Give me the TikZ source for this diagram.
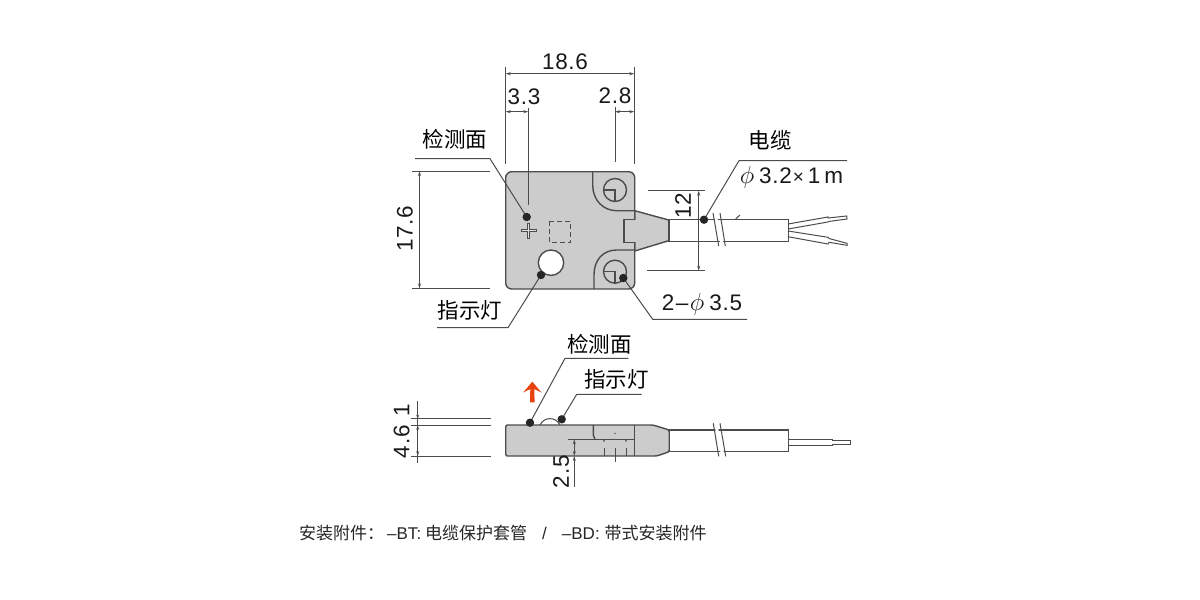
\documentclass[tikz,border=0pt]{standalone}
\usepackage{fontspec}
\usepackage{xcolor}
\usetikzlibrary{arrows.meta}
\setmainfont{Liberation Sans}
\newfontfamily\cjk{Noto Sans CJK SC}
\newfontfamily\dimfont[LetterSpace=3]{Liberation Sans}
\definecolor{base}{HTML}{cccccc}
\definecolor{ink}{HTML}{4c4c4c}
\definecolor{hint}{HTML}{e8430f}
\newcommand{\phisign}{{\fontsize{27}{28}\selectfont$\phi$}}

\begin{document}
\begin{tikzpicture}[x=1pt, y=-1pt,
    line/.style={ink, line width=1pt},
    edge/.style={ink, line width=1.4pt},
    dimen/.style={line, {Stealth[length=5pt,width=3pt]}-{Stealth[length=5pt,width=3pt]}},
    lbl/.style={inner sep=0pt, text=black!90, font=\fontsize{22.5}{24}\selectfont\dimfont},
    cjklbl/.style={inner sep=0pt, text=black, font=\fontsize{21.5}{24}\selectfont\cjk},
    blob/.style={fill=black!85}]
      \useasboundingbox (0,0) rectangle (1200,600);
      \fill[white] (0,0) rectangle (1200,600);

      % Draw top view body
      \draw[edge, fill=base] (634.7,210.7) -- (668.7,220) -- (668.7,240.7) -- (634.7,251) -- cycle;
      \draw[edge, fill=base, rounded corners=6pt] (505.7,171.7) rectangle (634.7,289);
      \draw[base, line width=2.2pt] (634.7,220) -- (634.7,241.6);
      \draw[edge] (592.7,172) -- (592.7,185) .. controls (592.7,200) and (603,210.7) .. (616.7,210.7) -- (634.7,210.7);
      \draw[edge] (594,289) -- (594,275) .. controls (594,260) and (603,250) .. (616.7,250) -- (634.7,250);
      \draw[edge] (634.7,219.3) -- (624,219.3) -- (624,242.3) -- (634.7,242.3);

      % Draw mounting holes
      \draw[edge] (615,190) circle (11.5pt);
      \draw[edge] (603.5,190) -- (615,190) -- (615,201.5);
      \draw[edge] (615,271.7) circle (11.5pt);
      \draw[edge] (603.5,271.7) -- (615,271.7) -- (615,283.2);

      % Draw cross, dashed square and lamp
      \draw[ink, line width=3pt] (520.7,230.7) -- (536.7,230.7) (528.7,222.7) -- (528.7,238.7);
      \draw[base!60!white, line width=0.8pt] (521.7,230.7) -- (535.7,230.7) (528.7,223.7) -- (528.7,237.7);
      \draw[line, dashed, dash pattern=on 5pt off 3pt] (549,221) rectangle (570.7,242);
      \draw[edge, fill=white] (551,262.7) circle (12.7pt);

      % Draw cable and wires
      \draw[edge, fill=white] (669,219.3) rectangle (788.3,241.3);
      \draw[line] (788,224) -- (828,217) -- (828,218) -- (846.7,216) -- (847,219) -- (828.5,221.5) -- (828,222) -- (788,229);
      \draw[line] (788,231) -- (828,237.3) -- (829,238.5) -- (847,243.3) -- (847,245.3) -- (829,242.3) -- (828,244) -- (788,236.7);
      \draw[white, line width=3pt] (715.5,217) -- (722.5,245);
      \draw[line] (713,213) -- (718.7,246);
      \draw[line] (720,213) -- (725.3,246);
      \draw[line] (735.7,219) -- (740,215);

      % Draw top view dimensions
      \draw[line] (505.7,67) -- (505.7,164);
      \draw[line] (634.3,67) -- (634.3,164);
      \draw[line] (528.3,108) -- (528.3,205);
      \draw[line] (615,107) -- (615,162);
      \draw[dimen] (505.7,73.7) -- (634.3,73.7);
      \draw[dimen] (505.7,111.7) -- (528.3,111.7);
      \draw[dimen] (615,111.7) -- (634.3,111.7);
      \draw[line] (412,171) -- (490,171);
      \draw[line] (412,288.5) -- (490,288.5);
      \draw[dimen] (419.5,171) -- (419.5,288.5);
      \draw[line] (648,190.7) -- (705,190.7);
      \draw[line] (647,270.7) -- (705,270.7);
      \draw[dimen] (698.7,190.7) -- (698.7,270.7);

      % Top view labels
      \node[lbl] (widthlabel) at (565,61.5) {18.6};
      \node[lbl] (offsetlabel) at (524,97) {3.3};
      \node[lbl] (holelabel) at (615,96) {2.8};
      \node[lbl, rotate=90] (heightlabel) at (405,229) {17.6};
      \node[lbl, rotate=90] (spanlabel) at (683,206) {12};
      \node[cjklbl] (sensetop) at (455,139) {检测面};
      \node[cjklbl] (lamptop) at (470,310) {指示灯};
      \node[cjklbl] (cabletop) at (770,140) {电缆};
      \node[lbl] (cablesize) at (791.5,177) {\phisign\hspace{5pt}3.2\hspace{1pt}{\fontsize{19}{20}\selectfont ×}\hspace{4pt}1\hspace{4pt}m};
      \node[lbl] (holesize) at (702,304) {2\hspace{1.5pt}–\hspace{1.5pt}\phisign\hspace{5pt}3.5};

      % Top view leaders
      \coordinate (sensedot) at (526.7,217);
      \coordinate (lampdot) at (541,275);
      \coordinate (holedot) at (623.3,278);
      \coordinate (cabledot) at (704,219.7);
      \draw[line] (415,158.7) -- (490,158.7) -- (sensedot);
      \draw[line] (437,327.7) -- (508,327.7) -- (lampdot);
      \draw[line] (747,319.3) -- (652.7,319.3) -- (holedot);
      \draw[line] (847,160.7) -- (739,160.7) -- (cabledot);
      \fill[blob] (sensedot) circle (4.2pt);
      \fill[blob] (lampdot) circle (4.2pt);
      \fill[blob] (holedot) circle (4.2pt);
      \fill[blob] (cabledot) circle (4.2pt);

      % Draw side view body
      \draw[line] (540,425) .. controls (544,416.5) and (556,416.5) .. (560,425);
      \draw[edge, fill=base, rounded corners=1.5pt] (505.7,425) -- (653,425) -- (669.3,430) -- (669.3,451.7) -- (656.7,456) -- (505.7,456) -- cycle;
      \draw[edge] (593.3,425) -- (593.3,435) -- (595,439.3);
      \draw[edge] (567.7,439.3) -- (634,439.3);
      \draw[edge] (634.3,425) -- (634.3,456);
      \fill[ink] (615,433.3) circle (0.8pt);
      \fill[ink] (604,440.8) circle (1pt);
      \fill[ink] (626,440.8) circle (1pt);
      \draw[line] (604,448) -- (604,456);
      \draw[line] (626,448) -- (626,456);
      \draw[line] (615,448) -- (615,461.7);

      % Draw side view cable
      \draw[line, fill=white] (788.3,439) -- (832,439) -- (832,440.7) -- (850,440.7) -- (850,444) -- (832,444) -- (832,445) -- (788.3,445) -- cycle;
      \draw[edge, fill=white] (669.3,430) rectangle (788.3,451.7);
      \draw[white, line width=3pt] (716.5,428) -- (722.5,454);
      \draw[line] (713.3,423.3) -- (718.7,456.3);
      \draw[line] (720,423.3) -- (725.7,456.3);

      % Draw side view dimensions
      \draw[line] (411,418.7) -- (491,418.7);
      \draw[line] (411,425) -- (491,425);
      \draw[line] (411,456) -- (491,456);
      \draw[line] (417.7,400.7) -- (417.7,463.3);
      \draw[line, -{Stealth[length=4pt,width=3pt]}] (417.7,410) -- (417.7,418.7);
      \draw[dimen] (417.7,425) -- (417.7,456);
      \draw[line, -{Stealth[length=5pt,width=3pt]}] (574.3,487) -- (574.3,456);
      \draw[dimen] (574.3,439.3) -- (574.3,456);

      % Side view labels
      \node[lbl, rotate=90] (thicklabel) at (401.7,441.7) {4.6};
      \node[lbl, rotate=90] (raiselabel) at (401.7,410) {1};
      \node[lbl, rotate=90] (bottomlabel) at (561,471.7) {2.5};
      \node[cjklbl] (senseside) at (599.3,344) {检测面};
      \node[cjklbl] (lampside) at (616.7,379.3) {指示灯};

      % Side view leaders
      \coordinate (sensemark) at (530,422.7);
      \coordinate (lampmark) at (561.7,419.3);
      \draw[line] (628.3,358.3) -- (565,358.3) -- (sensemark);
      \draw[line] (641.7,394.3) -- (576.7,394.3) -- (lampmark);
      \fill[blob] (sensemark) circle (4.2pt);
      \fill[blob] (lampmark) circle (4.2pt);

      % Draw sensing direction arrow
      \fill[hint] (532.3,381.7) -- (541.5,392.5) -- (534.3,389) -- (534.6,402.3) -- (530,402.3) -- (530.3,389) -- (523.1,392.5) -- cycle;

      % Caption
      \node[inner sep=0pt, anchor=west, text=black!85, font=\fontsize{17}{18}\selectfont] (caption) at (299,533) {{\cjk 安装附件：}\hspace{3pt}–BT:\hspace{4pt}{\cjk 电缆保护套管}\hspace{15pt}/\hspace{15pt}–BD:\hspace{5pt}{\cjk 带式安装附件}};
\end{tikzpicture}
\end{document}
